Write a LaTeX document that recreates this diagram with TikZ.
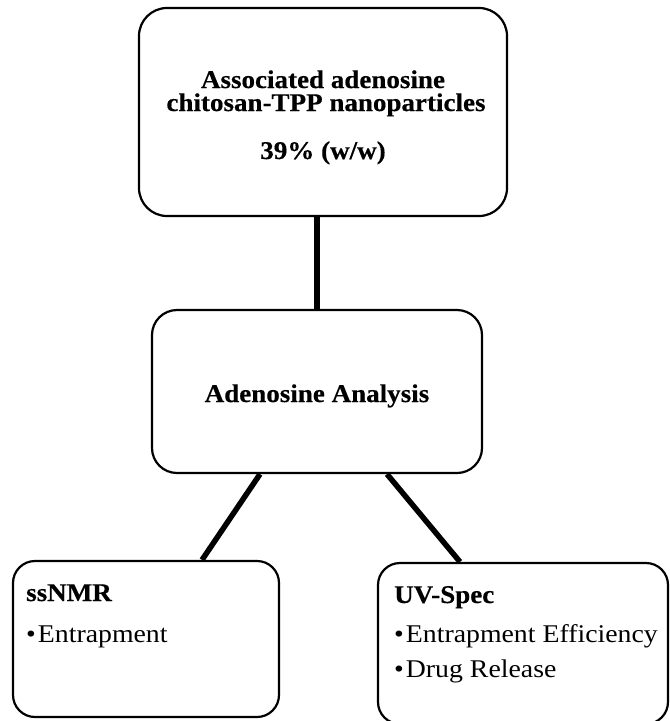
\documentclass[tikz,border=0pt]{standalone}
\usepackage{fontspec}
\setmainfont{Liberation Serif}
\newfontfamily\diafont[FakeStretch=1.09]{Liberation Serif}
\newfontfamily\diabold[FakeStretch=1.06, FakeBold=0.4, UprightFont={* Bold}]{Liberation Serif}
\usetikzlibrary{calc}
\begin{document}
\begin{tikzpicture}[x=1pt,y=-1pt,
  box/.style={draw=black, line width=2.2pt, fill=white, inner sep=0pt},
  link/.style={draw=black, line width=6pt},
  txt/.style={inner sep=0pt, anchor=base, font=\diafont\fontsize{25.5}{28}\selectfont},
  btxt/.style={txt, font=\diabold\fontsize{25.5}{28}\selectfont},
  ltxt/.style={txt, anchor=base west}]
\useasboundingbox[fill=white] (0,0) rectangle (670,721);

% boxes
\node[box, rounded corners=28pt, minimum width=368pt, minimum height=208pt] (top) at (323,112) {};
\node[box, rounded corners=25pt, minimum width=330pt, minimum height=163pt] (mid) at (317,391.5) {};
\node[box, rounded corners=22pt, minimum width=266pt, minimum height=156pt] (left) at (146,639) {};
\node[box, rounded corners=22pt, minimum width=290pt, minimum height=161pt] (right) at (523,643.5) {};

% connectors
\draw[link] (mid.north) -- (mid.north |- top.south);
\draw[link, line width=5.5pt] ($(mid.south)+(-57,0)$) -- ($(left.north)+(56,0)$);
\draw[link, line width=5.5pt] ($(mid.south)+(70,0)$) -- ($(right.north)+(-63,0)$);

% texts
\node[btxt] (t1) at (323,88) {Associated adenosine};
\node[btxt] (t2) at (326,111) {chitosan-TPP nanoparticles};
\node[btxt] (t3) at (323,159) {39\% (w/w)};
\node[btxt] (m1) at (317,402) {Adenosine Analysis};

\node[btxt, anchor=base west] (l1) at (26,601) {ssNMR};
\node[ltxt] (l2) at (26,642) {\textbullet\hspace{2pt}Entrapment};

\node[btxt, anchor=base west] (r1) at (394,603) {UV-Spec};
\node[ltxt] (r2) at (394,642) {\textbullet\hspace{2pt}Entrapment Efficiency};
\node[ltxt] (r3) at (394,677) {\textbullet\hspace{2pt}Drug Release};
\end{tikzpicture}
\end{document}
